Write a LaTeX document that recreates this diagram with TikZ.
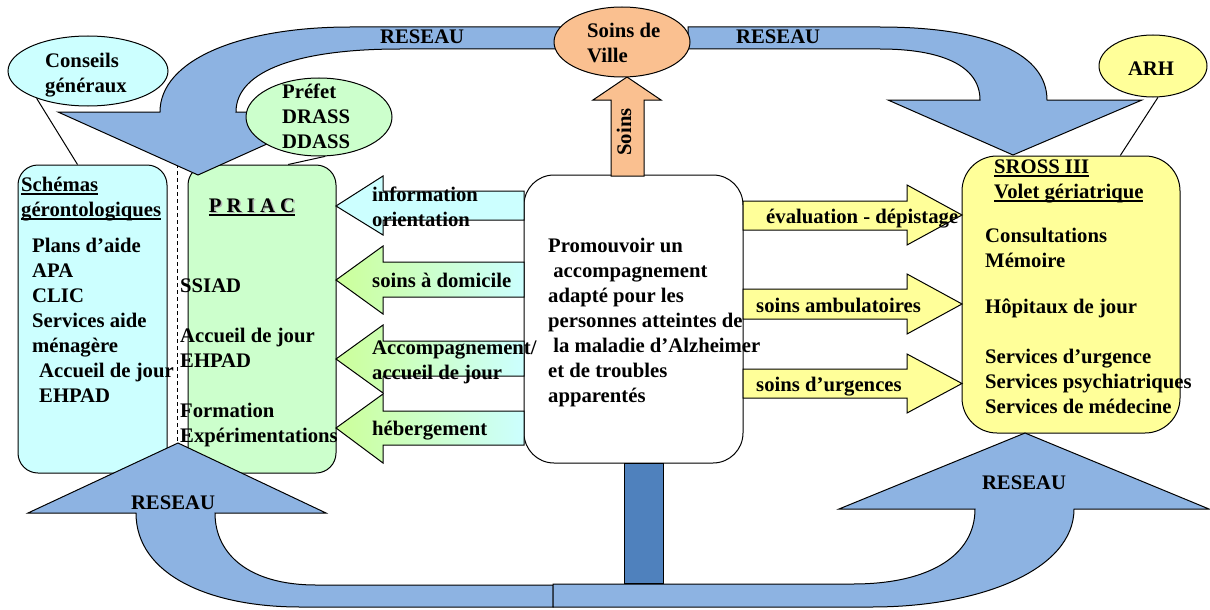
\documentclass[tikz,border=0pt]{standalone}
\usepackage{fontspec}
\setmainfont{Liberation Serif}
\usetikzlibrary{calc,shapes.geometric}
\definecolor{blu}{HTML}{8DB3E2}
\definecolor{dblu}{HTML}{4F81BD}
\definecolor{lcyan}{HTML}{CCFFFF}
\definecolor{lgreen}{HTML}{CCFFCC}
\definecolor{ygreen}{HTML}{CCFF99}
\definecolor{lyel}{HTML}{FFFF99}
\definecolor{peach}{HTML}{FAC090}
\newcommand\myul[1]{\setbox0\hbox{#1}\rlap{\rule[-3.5pt]{\wd0}{1.4pt}}\box0}
\newcommand\shad[1]{\rlap{\kern1.5pt\raisebox{-1.5pt}{\textcolor{black!30}{#1}}}#1}
\tikzset{
  conn/.style={draw=black, line width=1pt},
  rbox/.style={draw, line width=1pt, rounded corners=20pt, inner sep=0pt},
  ell/.style={draw, ellipse, line width=1pt, inner sep=0pt},
  txt/.style={font=\bfseries\fontsize{20.7}{25}\selectfont, align=left, inner sep=0pt, anchor=north west, yshift=17.5pt},
  lbl/.style={font=\bfseries\fontsize{20.7}{25}\selectfont, inner sep=0pt, anchor=base},
  bluearr/.style={fill=blu, draw, line width=1pt, line join=miter},
  larr/.style={draw, line width=1pt, left color=ygreen, right color=lcyan},
  rarr/.style={draw, line width=1pt, fill=lyel},
}
\begin{document}
\begin{tikzpicture}[x=1pt,y=-1pt]
\useasboundingbox (0,0) rectangle (1210,610);

% divider
\draw[dash pattern=on 4pt off 3pt, line width=0.8pt] (177,150) -- (177,460);

% boxes
\node[rbox, fill=lcyan, minimum width=149pt, minimum height=308pt] (schemas) at (92.5,319) {};
\node[rbox, fill=lgreen, minimum width=148pt, minimum height=308pt] (priac) at (262,319) {};
\node[rbox, fill=white, rounded corners=30pt, minimum width=219pt, minimum height=288pt] (center) at (633.5,319) {};
\node[rbox, fill=lyel, rounded corners=35pt, minimum width=218pt, minimum height=277pt] (sross) at (1071,294.5) {};

% dark bar
\draw[fill=dblu, line width=1pt] (624,463) rectangle (663,583);

% big blue arrows
\draw[bluearr] (560,27) -- (350,27) .. controls (240,27) and (160,60) .. (160,112)
  -- (58,112) -- (198,175) -- (338,112) -- (236,112)
  .. controls (236,70) and (300,49) .. (400,49) -- (560,49) -- cycle;
\draw[bluearr] (688,27) -- (880,27) .. controls (990,27) and (1047,55) .. (1047,100)
  -- (1142,100) -- (1013,155) -- (888,100) -- (980,100)
  .. controls (980,65) and (940,49) .. (880,49) -- (688,49) -- cycle;
\draw[bluearr] (553,585) -- (316,585) .. controls (250,585) and (215,555) .. (215,513)
  -- (326,513) -- (178,443) -- (28,513) -- (136,513)
  .. controls (136,575) and (210,607) .. (300,607) -- (553,607) -- cycle;
\draw[bluearr] (553,584) -- (853,584) .. controls (930,584) and (975,555) .. (975,509)
  -- (839,509) -- (1025,433) -- (1209,509) -- (1074,509)
  .. controls (1074,570) and (980,607) .. (872,607) -- (553,607) -- cycle;

% left arrows
\draw[draw, line width=1pt, fill=lcyan] (524,191) -- (383,191) -- (383,176) -- (336,206) -- (383,235) -- (383,220) -- (524,220) -- cycle;
\draw[larr] (524,262) -- (383,262) -- (383,246) -- (336,280) -- (383,314) -- (383,297) -- (524,297) -- cycle;
\draw[larr] (524,341) -- (383,341) -- (383,325) -- (336,359) -- (383,393) -- (383,376) -- (524,376) -- cycle;
\draw[larr] (524,411) -- (383,411) -- (383,394) -- (336,428) -- (383,463) -- (383,445) -- (524,445) -- cycle;

% right arrows
\draw[rarr] (743,201) -- (907,201) -- (907,185) -- (962,215) -- (907,245) -- (907,230) -- (743,230) -- cycle;
\draw[rarr] (743,289) -- (907,289) -- (907,274) -- (962,304) -- (907,334) -- (907,319) -- (743,319) -- cycle;
\draw[rarr] (743,369) -- (907,369) -- (907,354) -- (962,383.5) -- (907,413) -- (907,398) -- (743,398) -- cycle;

% soins arrow
\draw[fill=peach, line width=1pt] (611,176) -- (611,100) -- (593,100) -- (627,77) -- (661,100) -- (644,100) -- (644,176) -- cycle;

% ellipses
\node[ell, fill=lcyan, minimum width=160pt, minimum height=70pt] (cg) at (88,71) {};
\node[ell, fill=lgreen, minimum width=146pt, minimum height=78pt] (pref) at (319,117) {};
\node[ell, fill=peach, minimum width=136pt, minimum height=70pt] (sv) at (622,42) {};
\node[ell, fill=lyel, minimum width=108pt, minimum height=62pt] (arh) at (1153,66) {};

% connectors
\draw[conn] (cg.208) -- ($(schemas.north west)!0.4!(schemas.north east)$);
\draw[conn] (pref.279) -- ($(priac.north west)!0.676!(priac.north east)$);
\draw[conn] (arh.279) -- ($(sross.north west)!0.725!(sross.north east)$);

% texts
\node[txt] (cgt) at (45,67) {\strut Conseils\\généraux};
\node[txt] (preft) at (282,98) {\strut Préfet\\DRASS\\DDASS};
\node[txt] (svt) at (587,37) {\strut Soins de\\Ville};
\node[lbl] (arht) at (1151,75) {ARH};
\node[lbl, anchor=base west] (r1) at (380,44) {RESEAU};
\node[lbl, anchor=base west] (r2) at (736,44) {RESEAU};
\node[lbl] (r3) at (173,509) {RESEAU};
\node[lbl] (r4) at (1024,489) {RESEAU};
\node[lbl, rotate=90] (soinst) at (631,132) {Soins};

\node[txt] (sch1) at (21,191) {\strut\myul{Schémas}\\\myul{gérontologiques}};
\node[txt] (sch2) at (32,252) {\strut Plans d’aide\\APA\\CLIC\\Services aide\\ménagère};
\node[txt] (sch3) at (39,377) {\strut Accueil de jour\\EHPAD};

\node[lbl] (priact) at (252,212) {\myul{\shad{P R I A C}}};
\node[txt] (pr1) at (180,292) {\strut SSIAD};
\node[txt] (pr2) at (180,342) {\strut Accueil de jour\\EHPAD};
\node[txt] (pr3) at (180,417) {\strut Formation\\Expérimentations};

\node[txt] (la1) at (372,201) {\strut information\\orientation};
\node[txt] (la2) at (372,287) {\strut soins à domicile};
\node[txt] (la3) at (372,354) {\strut Accompagnement/\\accueil de jour};
\node[txt] (la4) at (372,435) {\strut hébergement};

\node[txt] (ct) at (548,252) {\strut Promouvoir un\\\ accompagnement\\adapté pour les\\personnes atteintes de\\\ la maladie d’Alzheimer\\et de troubles\\apparentés};

\node[txt] (ra1) at (766,223) {\strut évaluation - dépistage};
\node[txt] (ra2) at (756,312) {\strut soins ambulatoires};
\node[txt] (ra3) at (756,391) {\strut soins d’urgences};

\node[txt] (sr1) at (994,173) {\strut\myul{SROSS III}\\\myul{Volet gériatrique}};
\node[txt] (sr2) at (985,242) {\strut Consultations\\Mémoire};
\node[txt] (sr3) at (985,313) {\strut Hôpitaux de jour};
\node[txt] (sr4) at (985,363) {\strut Services d’urgence\\Services psychiatriques\\Services de médecine};
\end{tikzpicture}
\end{document}
